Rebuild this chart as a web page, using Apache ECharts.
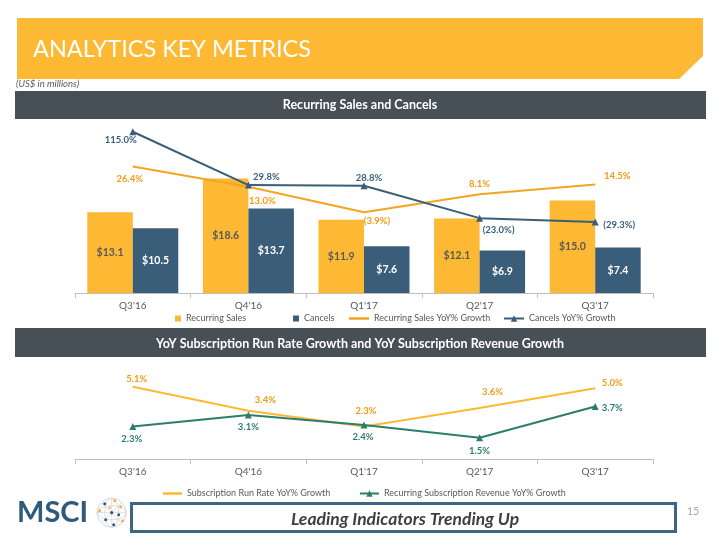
<!DOCTYPE html>
<html><head><meta charset="utf-8">
<script src="https://cdn.jsdelivr.net/npm/echarts@6/dist/echarts.min.js"></script>
<style>html,body{margin:0;padding:0;background:#fff}#c{width:720px;height:540px}</style>
</head><body><div id="c"></div>
<script>
// ---- data ----
const categories = ["Q3'16", "Q4'16", "Q1'17", "Q2'17", "Q3'17"];
const recurringSales = [13.1, 18.6, 11.9, 12.1, 15.0];
const cancels = [10.5, 13.7, 7.6, 6.9, 7.4];
const recurringSalesYoY = [26.4, 13.0, -3.9, 8.1, 14.5];
const cancelsYoY = [115.0, 29.8, 28.8, -23.0, -29.3];
const subRunRateYoY = [5.1, 3.4, 2.3, 3.6, 5.0];
const recSubRevYoY = [2.3, 3.1, 2.4, 1.5, 3.7];

// ---- styling ----
const FONT = 'Lato, "Open Sans", sans-serif';
const ORANGE_BAR = '#FDB933';
const ORANGE_LINE = '#F3A521';
const ORANGE_TXT = '#F29B12';
const BLUE = '#3A5E7A';
const GREEN = '#2B7E6E';
const GRAY_TXT = '#595959';

const cancelsYoYOff = [[-12, 8], [18, -8], [5, -8], [19, 12], [24, 3]];
const salesYoYOff = [[-3, 12], [14, 14], [13, 9], [0, -10], [22, -9]];
const runRateOff = [[4, -8], [17, -11], [2, -15], [13, -16], [17, -5]];
const subRevOff = [[-1, 13], [0, 12], [-1, 12], [0, 13], [17, 1]];

const pct = v => v < 0 ? '(' + Math.abs(v).toFixed(1) + '%)' : v.toFixed(1) + '%';
const money = v => '$' + v.toFixed(1);

function withOffsets(arr, offs) {
  return arr.map((v, i) => ({ value: v, label: { offset: offs[i] } }));
}

const chart = echarts.init(document.getElementById('c'), null, { renderer: 'canvas' });

const axisCommon = {
  type: 'category',
  data: categories,
  boundaryGap: true,
  axisLine: { lineStyle: { color: '#BFBFBF', width: 1 } },
  axisTick: { show: true, length: 5, lineStyle: { color: '#BFBFBF' } },
  axisLabel: { color: GRAY_TXT, fontSize: 10, fontFamily: FONT, margin: 8 },
  splitLine: { show: false }
};

const legendText = { color: GRAY_TXT, fontSize: 9, fontFamily: FONT };

const option = {
  animation: false,
  backgroundColor: '#ffffff',
  textStyle: { fontFamily: FONT },
  grid: [
    { left: 75, right: 67, top: 123, height: 170 },
    { left: 75, right: 67, top: 374, height: 85 }
  ],
  xAxis: [
    Object.assign({ gridIndex: 0 }, axisCommon),
    Object.assign({ gridIndex: 1 }, axisCommon)
  ],
  yAxis: [
    { gridIndex: 0, type: 'value', min: 0, max: 27.6, show: false },
    { gridIndex: 0, type: 'value', min: -142.6, max: 129, show: false },
    { gridIndex: 0, type: 'value', min: -57.4, max: 55.3, show: false },
    { gridIndex: 1, type: 'value', min: 0, max: 6, show: false }
  ],
  legend: [
    { left: 170, top: 309, itemWidth: 6, itemHeight: 6, icon: 'rect', textStyle: legendText, data: ['Recurring Sales'] },
    { left: 288, top: 309, itemWidth: 6, itemHeight: 6, icon: 'rect', textStyle: legendText, data: ['Cancels'] },
    { left: 344, top: 309, itemWidth: 20, itemHeight: 2.5, icon: 'rect', textStyle: legendText, data: ['Recurring Sales YoY% Growth'] },
    { left: 498, top: 309, itemWidth: 20, itemHeight: 8, textStyle: legendText, data: ['Cancels YoY% Growth'] },
    { left: 158, top: 484, itemWidth: 19, itemHeight: 2.5, icon: 'rect', textStyle: legendText, data: ['Subscription Run Rate YoY% Growth'] },
    { left: 354, top: 484, itemWidth: 19, itemHeight: 8, textStyle: legendText, data: ['Recurring Subscription Revenue YoY% Growth'] }
  ],
  series: [
    {
      name: 'Recurring Sales', type: 'bar', xAxisIndex: 0, yAxisIndex: 0,
      data: recurringSales, barWidth: 45.5, barGap: '0%',
      itemStyle: { color: ORANGE_BAR },
      label: { show: true, position: 'inside', formatter: p => money(p.value), color: GRAY_TXT, fontWeight: 'bold', fontSize: 10.5, fontFamily: FONT },
      z: 2
    },
    {
      name: 'Cancels', type: 'bar', xAxisIndex: 0, yAxisIndex: 0,
      data: cancels, barWidth: 45.5, barGap: '0%',
      itemStyle: { color: BLUE },
      label: { show: true, position: 'inside', formatter: p => money(p.value), color: '#FFFFFF', fontWeight: 'bold', fontSize: 10.5, fontFamily: FONT },
      z: 2
    },
    {
      name: 'Recurring Sales YoY% Growth', type: 'line', xAxisIndex: 0, yAxisIndex: 2,
      data: withOffsets(recurringSalesYoY, salesYoYOff),
      symbol: 'circle', symbolSize: 0.5,
      lineStyle: { color: ORANGE_LINE, width: 2 }, itemStyle: { color: ORANGE_LINE },
      label: { show: true, position: 'inside', formatter: p => pct(p.value), color: ORANGE_TXT, fontWeight: 'bold', fontSize: 9.5, fontFamily: FONT },
      z: 4
    },
    {
      name: 'Cancels YoY% Growth', type: 'line', xAxisIndex: 0, yAxisIndex: 1,
      data: withOffsets(cancelsYoY, cancelsYoYOff),
      symbol: 'triangle', symbolSize: 7,
      lineStyle: { color: BLUE, width: 2 }, itemStyle: { color: BLUE },
      label: { show: true, position: 'inside', formatter: p => pct(p.value), color: BLUE, fontWeight: 'bold', fontSize: 9.5, fontFamily: FONT },
      z: 5
    },
    {
      name: 'Subscription Run Rate YoY% Growth', type: 'line', xAxisIndex: 1, yAxisIndex: 3,
      data: withOffsets(subRunRateYoY, runRateOff),
      symbol: 'circle', symbolSize: 0.5,
      lineStyle: { color: ORANGE_BAR, width: 2 }, itemStyle: { color: ORANGE_BAR },
      label: { show: true, position: 'inside', formatter: p => pct(p.value), color: ORANGE_TXT, fontWeight: 'bold', fontSize: 9.5, fontFamily: FONT },
      z: 4
    },
    {
      name: 'Recurring Subscription Revenue YoY% Growth', type: 'line', xAxisIndex: 1, yAxisIndex: 3,
      data: withOffsets(recSubRevYoY, subRevOff),
      symbol: 'triangle', symbolSize: 7,
      lineStyle: { color: GREEN, width: 2 }, itemStyle: { color: GREEN },
      label: { show: true, position: 'inside', formatter: p => pct(p.value), color: GREEN, fontWeight: 'bold', fontSize: 9.5, fontFamily: FONT },
      z: 5
    }
  ],
  graphic: [
    // title bar with chamfered corner
    { type: 'polygon', shape: { points: [[17, 18], [703, 18], [703, 56], [679, 79], [17, 79]] }, style: { fill: ORANGE_BAR }, z: 0 },
    { type: 'text', x: 33, y: 49, style: { text: 'ANALYTICS KEY METRICS', fill: '#FFFFFF', font: '23.5px ' + FONT, textVerticalAlign: 'middle' } },
    { type: 'text', left: 16, top: 79, style: { text: '(US$ in millions)', fill: '#595959', font: 'italic 9.5px ' + FONT } },
    // section headers
    { type: 'rect', shape: { x: 15, y: 91, width: 691, height: 28 }, style: { fill: '#474F57' } },
    { type: 'text', x: 360, y: 105, style: { text: 'Recurring Sales and Cancels', fill: '#FFFFFF', font: 'bold 12.5px ' + FONT, textAlign: 'center', textVerticalAlign: 'middle' } },
    { type: 'rect', shape: { x: 15, y: 328, width: 691, height: 29 }, style: { fill: '#474F57' } },
    { type: 'text', x: 360, y: 343.5, style: { text: 'YoY Subscription Run Rate Growth and YoY Subscription Revenue Growth', fill: '#FFFFFF', font: 'bold 12.5px ' + FONT, textAlign: 'center', textVerticalAlign: 'middle' } },
    // footer
    { type: 'text', x: 17, y: 513, style: { text: 'MSCI', fill: '#2E5B7B', font: 'bold 29px ' + FONT, textVerticalAlign: 'middle' } },
    { type: 'group', x: 111.7, y: 512.7, children: [
      { type: 'circle', shape: { cx: 0, cy: 0, r: 14.5 }, style: { fill: '#FFFFFF', stroke: '#D6D6D6', lineWidth: 1 } },
      { type: 'ellipse', shape: { cx: 0, cy: 0, rx: 7, ry: 14.5 }, style: { fill: 'none', stroke: '#D6D6D6', lineWidth: 0.8 } },
      { type: 'ellipse', shape: { cx: 0, cy: 0, rx: 14.5, ry: 7 }, style: { fill: 'none', stroke: '#D6D6D6', lineWidth: 0.8 } },
      { type: 'line', shape: { x1: 0, y1: -14.5, x2: 0, y2: 14.5 }, style: { stroke: '#D6D6D6', lineWidth: 0.8 } },
      { type: 'line', shape: { x1: -14.5, y1: 0, x2: 14.5, y2: 0 }, style: { stroke: '#D6D6D6', lineWidth: 0.8 } },
      { type: 'line', shape: { x1: -10, y1: -10, x2: 10, y2: 10 }, style: { stroke: '#D6D6D6', lineWidth: 0.8 } },
      { type: 'line', shape: { x1: 10, y1: -10, x2: -10, y2: 10 }, style: { stroke: '#D6D6D6', lineWidth: 0.8 } },
      { type: 'circle', shape: { cx: -7, cy: -9, r: 1.5 }, style: { fill: '#2E5B7B' } },
      { type: 'circle', shape: { cx: 3, cy: -12, r: 1.5 }, style: { fill: '#F5B335' } },
      { type: 'circle', shape: { cx: 9, cy: -6, r: 1.5 }, style: { fill: '#F5B335' } },
      { type: 'circle', shape: { cx: -12, cy: -2, r: 1.5 }, style: { fill: '#F5B335' } },
      { type: 'circle', shape: { cx: 0, cy: 0, r: 1.6 }, style: { fill: '#2E5B7B' } },
      { type: 'circle', shape: { cx: 7, cy: 2, r: 1.5 }, style: { fill: '#2E5B7B' } },
      { type: 'circle', shape: { cx: -6, cy: 7, r: 1.5 }, style: { fill: '#2E5B7B' } },
      { type: 'circle', shape: { cx: 11, cy: 8, r: 1.5 }, style: { fill: '#F5B335' } },
      { type: 'circle', shape: { cx: 2, cy: 12, r: 1.5 }, style: { fill: '#2E5B7B' } },
      { type: 'circle', shape: { cx: -2, cy: -5, r: 1.2 }, style: { fill: '#F5B335' } }
    ] },
    { type: 'rect', shape: { x: 131.5, y: 503.5, width: 544, height: 28 }, style: { fill: '#FFFFFF', stroke: '#3D6585', lineWidth: 3 } },
    { type: 'text', x: 405, y: 519, style: { text: 'Leading Indicators Trending Up', fill: '#3F3F3F', font: 'italic bold 17.5px ' + FONT, textAlign: 'center', textVerticalAlign: 'middle' } },
    { type: 'text', x: 687, y: 512, style: { text: '15', fill: '#A6A6A6', font: '10.5px ' + FONT, textVerticalAlign: 'middle' } }
  ]
};

chart.setOption(option);
</script>
</body></html>
